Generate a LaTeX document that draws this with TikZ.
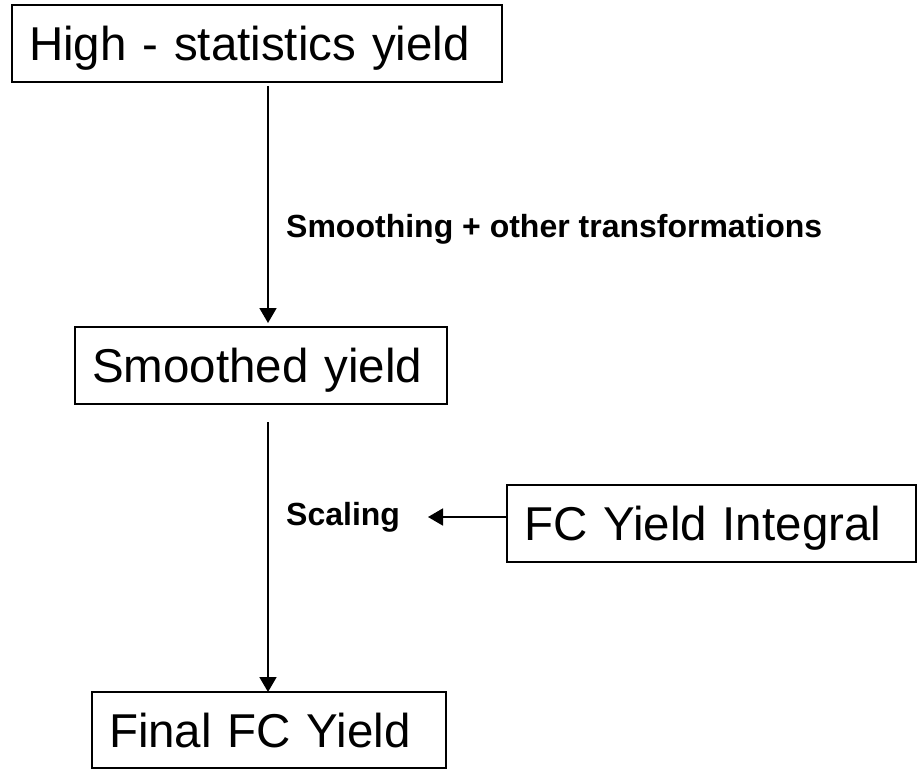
\documentclass[tikz,border=0pt]{standalone}
\usepackage{fontspec}
\setmainfont{Liberation Sans}
\usetikzlibrary{arrows.meta,calc}
\begin{document}
\begin{tikzpicture}[x=1pt,y=-1pt,
  box/.style={draw=black,line width=2.6pt,outer sep=0pt,inner xsep=17pt,inner ysep=0pt,
    align=left,anchor=north west,text height=34pt,text depth=0pt,
    font=\fontsize{47.5}{50}\selectfont},
  lbl/.style={inner sep=0pt,anchor=base west,font=\bfseries\fontsize{32}{35}\selectfont},
  conn/.style={line width=1.8pt,-{Triangle[width=17pt,length=15pt]}}]
\useasboundingbox (0,0) rectangle (918,770);
\node[box,minimum width=490pt,minimum height=77pt,text width=456pt] (hs) at (12,5) {High - statistics yield};
\node[box,minimum width=372pt,minimum height=77pt,text width=338pt] (sm) at (75,327) {Smoothed yield};
\node[box,minimum width=354pt,minimum height=76pt,text width=320pt] (fin) at (92,692) {Final FC Yield};
\node[box,minimum width=409pt,minimum height=77pt,text width=375pt] (fc) at (507,485) {FC Yield Integral};
\node[lbl] (l1) at (286,237) {Smoothing + other transformations};
\node[lbl] (l2) at (286,525) {Scaling};
\coordinate (ax) at (268,0);
\coordinate (sc) at (428,517);
\draw[conn,shorten <=4pt,shorten >=4pt] (ax |- hs.south) -- (ax |- sm.north);
\draw[conn,shorten <=18pt] (ax |- sm.south) -- (ax |- fin.north);
\draw[conn] (fc.west |- sc) -- (sc);
\end{tikzpicture}
\end{document}
